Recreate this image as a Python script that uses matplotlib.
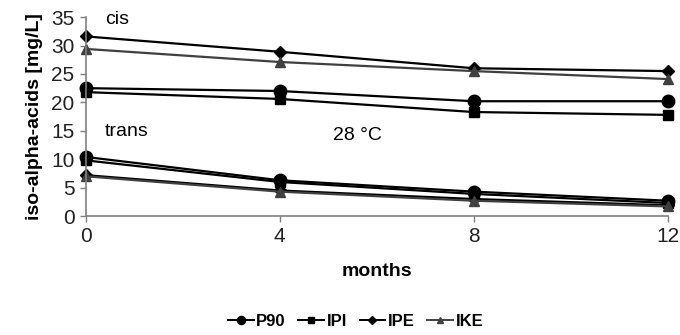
import matplotlib
matplotlib.use('Agg')
import matplotlib.pyplot as plt

plt.rcParams['font.family'] = ['Liberation Sans', 'DejaVu Sans']

months = [0, 4, 8, 12]
series = ['P90', 'IPI', 'IPE', 'IKE']

# cis iso-alpha-acids [mg/L]
cis_p90 = [22.5, 22.0, 20.2, 20.2]
cis_ipi = [21.8, 20.6, 18.3, 17.8]
cis_ipe = [31.6, 28.9, 26.0, 25.5]
cis_ike = [29.4, 27.1, 25.5, 24.1]

# trans iso-alpha-acids [mg/L]
trans_p90 = [10.4, 6.3, 4.3, 2.7]
trans_ipi = [9.8, 6.0, 3.9, 2.3]
trans_ipe = [7.2, 4.5, 3.0, 1.9]
trans_ike = [7.0, 4.3, 2.7, 1.7]

cis = [cis_p90, cis_ipi, cis_ipe, cis_ike]
trans = [trans_p90, trans_ipi, trans_ipe, trans_ike]

styles = {
    'P90': dict(marker='o', color='black', ms=9),
    'IPI': dict(marker='s', color='black', ms=6.5),
    'IPE': dict(marker='D', color='black', ms=6.5),
    'IKE': dict(marker='^', color='#404040', ms=7),
}

fig = plt.figure(figsize=(6.8, 3.35), dpi=100)
ax = fig.add_axes([0.126, 0.355, 0.856, 0.594])

for name, c, t in zip(series, cis, trans):
    st = styles[name]
    ax.plot(months, c, color=st['color'], marker=st['marker'], ms=st['ms'], lw=1.6,
            label=name, clip_on=False)
    ax.plot(months, t, color=st['color'], marker=st['marker'], ms=st['ms'], lw=1.6,
            clip_on=False)

ax.set_xlim(0, 12)
ax.set_ylim(0, 35)
ax.set_xticks(months)
ax.set_yticks(range(0, 36, 5))

for s in ['top', 'right']:
    ax.spines[s].set_visible(False)
for s in ['left', 'bottom']:
    ax.spines[s].set_color('#808080')
    ax.spines[s].set_linewidth(1.2)
ax.tick_params(axis='both', direction='out', length=4, width=1, color='#808080',
               labelsize=15, labelcolor='#222222', pad=4)

ax.set_xlabel('months', fontsize=14, fontweight='bold', labelpad=12)
ax.set_ylabel('iso-alpha-acids [mg/L]', fontsize=14, fontweight='bold', labelpad=6)

ax.text(0.4, 34.6, 'cis', fontsize=14, va='center')
ax.text(0.4, 14.8, 'trans', fontsize=14, va='center')
ax.text(5.1, 14.2, '28 °C', fontsize=14, va='center')

leg = fig.legend(loc='center', bbox_to_anchor=(0.523, 0.04), ncol=4, frameon=False,
                 prop=dict(size=12, weight='bold'), markerscale=0.65,
                 handlelength=1.55, handletextpad=0.15, columnspacing=0.75)
for h in leg.get_lines():
    h.set_linewidth(1.4)

fig.savefig('out.png', dpi=100)
